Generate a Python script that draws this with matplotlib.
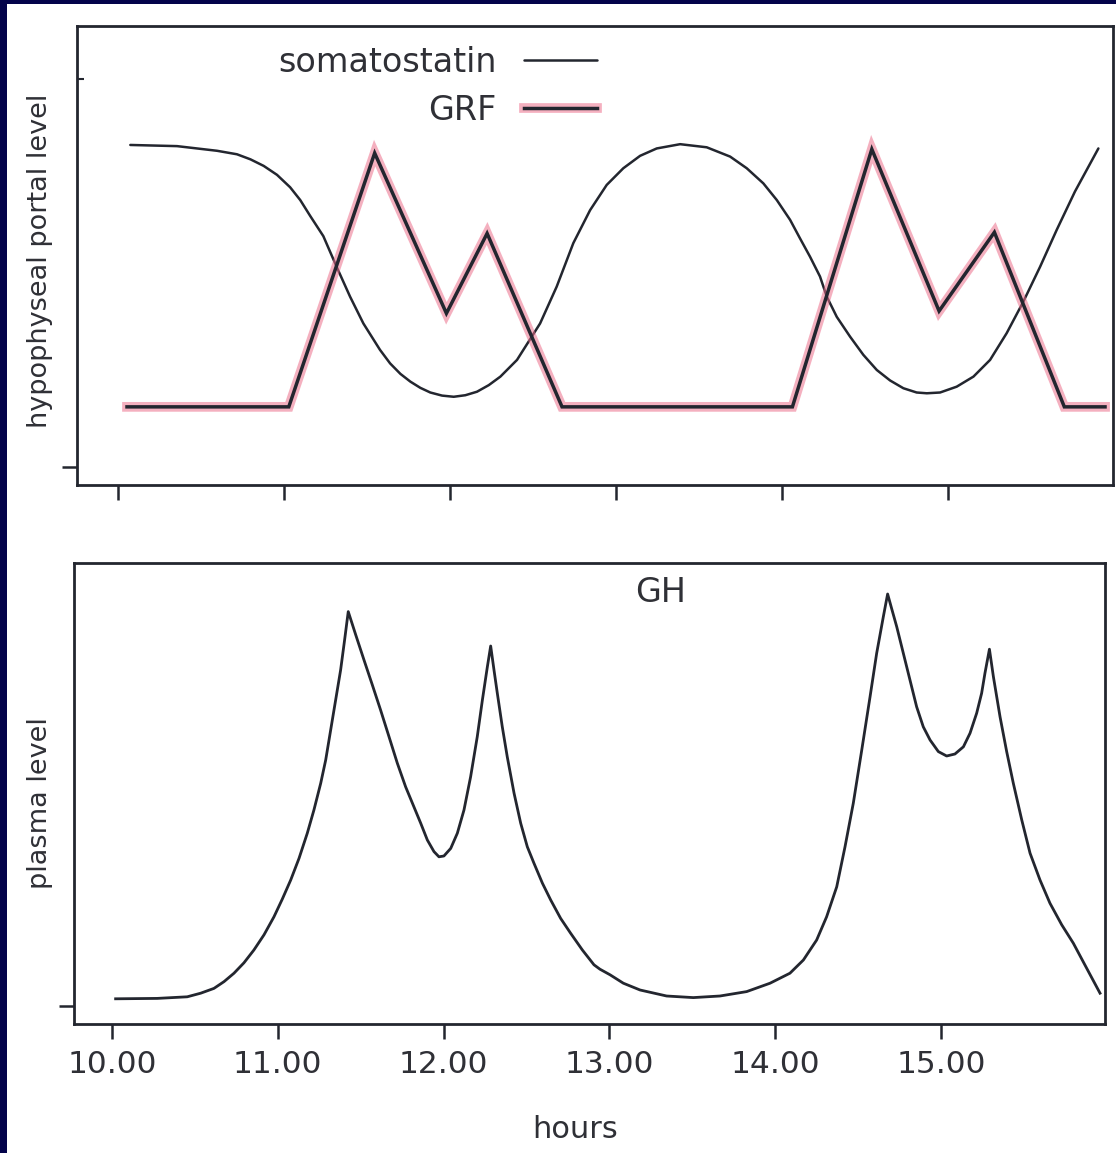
import matplotlib
matplotlib.use("Agg")
import matplotlib.pyplot as plt
import matplotlib.patheffects as pe
from matplotlib.patches import Rectangle

plt.rcParams['font.family'] = ['DejaVu Sans']

# ---------------- data ----------------
hour_ticks = [10, 11, 12, 13, 14, 15]
hour_labels = ["10.00", "11.00", "12.00", "13.00", "14.00", "15.00"]

som_t = [10.077, 10.358, 10.599, 10.719, 10.800, 10.880, 10.960, 11.039, 11.100,
         11.160, 11.239, 11.320, 11.400, 11.480, 11.580, 11.641, 11.703, 11.763,
         11.823, 11.883, 11.954, 12.024, 12.094, 12.164, 12.235, 12.305, 12.405,
         12.544, 12.644, 12.744, 12.845, 12.945, 13.045, 13.146, 13.246, 13.387,
         13.547, 13.688, 13.788, 13.888, 13.969, 14.049, 14.109, 14.169, 14.229,
         14.270, 14.330, 14.410, 14.490, 14.571, 14.651, 14.731, 14.811, 14.872,
         14.952, 15.052, 15.153, 15.253, 15.353, 15.453, 15.554, 15.654, 15.764,
         15.905]
som_v = [0.830, 0.827, 0.815, 0.806, 0.793, 0.776, 0.753, 0.721, 0.688,
         0.647, 0.595, 0.515, 0.439, 0.370, 0.302, 0.267, 0.240, 0.220,
         0.204, 0.192, 0.184, 0.181, 0.185, 0.194, 0.211, 0.233, 0.276,
         0.370, 0.465, 0.577, 0.662, 0.727, 0.770, 0.802, 0.821, 0.832,
         0.824, 0.800, 0.770, 0.731, 0.688, 0.637, 0.589, 0.542, 0.491,
         0.439, 0.387, 0.336, 0.289, 0.250, 0.223, 0.203, 0.192, 0.190,
         0.192, 0.207, 0.233, 0.276, 0.345, 0.426, 0.516, 0.611, 0.710,
         0.821]

grf_t = [10.057, 11.031, 11.548, 11.980, 12.225, 12.676, 14.063, 14.541,
         14.946, 15.279, 15.700, 15.945]
grf_v = [0.155, 0.155, 0.809, 0.396, 0.602, 0.155, 0.155, 0.819,
         0.402, 0.605, 0.155, 0.155]

gh_t = [10.022, 10.273, 10.454, 10.535, 10.615, 10.676, 10.736, 10.796, 10.856,
        10.917, 10.977, 11.027, 11.078, 11.128, 11.178, 11.218, 11.259, 11.289,
        11.319, 11.349, 11.379, 11.403, 11.425, 11.470, 11.520, 11.570, 11.620,
        11.671, 11.721, 11.771, 11.821, 11.862, 11.902, 11.942, 11.972, 12.002,
        12.043, 12.083, 12.123, 12.163, 12.203, 12.234, 12.264, 12.284, 12.304,
        12.324, 12.354, 12.384, 12.425, 12.465, 12.505, 12.545, 12.596, 12.646,
        12.706, 12.766, 12.837, 12.907, 12.943, 13.004, 13.084, 13.185, 13.345,
        13.506, 13.667, 13.828, 13.969, 14.089, 14.170, 14.250, 14.310, 14.371,
        14.421, 14.471, 14.522, 14.572, 14.612, 14.652, 14.678, 14.702, 14.733,
        14.763, 14.793, 14.823, 14.853, 14.893, 14.934, 14.984, 15.034, 15.084,
        15.135, 15.175, 15.215, 15.245, 15.265, 15.292, 15.316, 15.356, 15.396,
        15.436, 15.487, 15.537, 15.597, 15.657, 15.728, 15.798, 15.879, 15.959]
gh_v = [0.018, 0.019, 0.023, 0.032, 0.044, 0.061, 0.082, 0.108, 0.140,
        0.178, 0.223, 0.267, 0.315, 0.369, 0.432, 0.490, 0.557, 0.615,
        0.690, 0.765, 0.840, 0.915, 0.986, 0.928, 0.865, 0.803, 0.740,
        0.673, 0.607, 0.548, 0.498, 0.457, 0.415, 0.386, 0.373, 0.375,
        0.394, 0.432, 0.490, 0.573, 0.673, 0.765, 0.848, 0.900, 0.840,
        0.782, 0.698, 0.623, 0.532, 0.457, 0.398, 0.357, 0.307, 0.265,
        0.219, 0.182, 0.140, 0.103, 0.092, 0.078, 0.057, 0.040, 0.025,
        0.021, 0.025, 0.036, 0.057, 0.082, 0.115, 0.165, 0.223, 0.298,
        0.398, 0.507, 0.640, 0.773, 0.882, 0.973, 1.030, 0.994, 0.948,
        0.898, 0.848, 0.798, 0.748, 0.698, 0.665, 0.636, 0.625, 0.630,
        0.648, 0.682, 0.732, 0.782, 0.832, 0.892, 0.823, 0.723, 0.636,
        0.557, 0.465, 0.382, 0.315, 0.257, 0.203, 0.157, 0.094, 0.032]

# ---------------- style ----------------
INK = "#23262f"
TXT = "#2f3036"
NAVY = "#03034a"
PINK = "#ec6f8c"
W, H = 1116, 1153

fig = plt.figure(figsize=(W / 100, H / 100), dpi=100)
fig.patch.set_facecolor(NAVY)
fig.patches.append(Rectangle((7 / W, 0), 1 - 7 / W, 1 - 4 / H,
                             transform=fig.transFigure, facecolor="white",
                             edgecolor="none", zorder=-10))

def fx(px):
    return px / W

def fy(py):
    return 1 - py / H

ax1 = fig.add_axes([fx(77), fy(485), fx(1113) - fx(77), fy(26) - fy(485)])
ax2 = fig.add_axes([fx(74), fy(1024), fx(1105) - fx(74), fy(563) - fy(1024)])

for ax in (ax1, ax2):
    ax.set_facecolor("none")
    for s in ax.spines.values():
        s.set_color(INK)
        s.set_linewidth(2.0)
    ax.set_xticks(hour_ticks)
    ax.tick_params(axis="both", direction="out", color=INK, width=1.8,
                   length=11, labelsize=22.5, labelcolor=TXT, pad=8)

# top panel
ax1.set_xlim(9.756, 15.993)
ax1.set_ylim(-0.0464, 1.1366)
ax1.set_xticklabels([])
ax1.set_yticks([0])
ax1.set_yticklabels([])
ax1.set_yticks([1.0], minor=True)
ax1.tick_params(axis="y", which="minor", direction="in", length=5, width=1.5, color=INK)

ax1.plot(som_t, som_v, color=INK, lw=1.8, solid_capstyle="round",
         solid_joinstyle="round", label="somatostatin")
ax1.plot(grf_t, grf_v, color=INK, lw=2.5, solid_joinstyle="miter",
         path_effects=[pe.Stroke(linewidth=7, foreground=PINK, alpha=0.55),
                       pe.Normal()],
         label="GRF")

leg = ax1.legend(loc="upper right", bbox_to_anchor=(fx(597), fy(46)),
                 bbox_transform=fig.transFigure, frameon=False,
                 markerfirst=False, alignment="right", fontsize=24,
                 handlelength=2.2, handletextpad=0.8, labelspacing=0.45,
                 borderpad=0, borderaxespad=0)
for t in leg.get_texts():
    t.set_color(TXT)

# bottom panel
ax2.set_xlim(9.771, 15.989)
ax2.set_ylim(-0.045, 1.1075)
ax2.set_xticklabels(hour_labels)
ax2.set_yticks([0])
ax2.set_yticklabels([])
ax2.plot(gh_t, gh_v, color=INK, lw=2.0, solid_joinstyle="round")
ax2.text(0.569, 0.937, "GH", transform=ax2.transAxes, ha="center", va="center",
         fontsize=24, color=TXT)

fig.text(fx(40), fy(261), "hypophyseal portal level", rotation=90,
         ha="center", va="center", fontsize=19.5, color=TXT)
fig.text(fx(40), fy(803), "plasma level", rotation=90,
         ha="center", va="center", fontsize=19.5, color=TXT)
fig.text(fx(575), fy(1130), "hours", ha="center", va="center",
         fontsize=22, color=TXT)

fig.savefig("out.png", dpi=100, facecolor=fig.get_facecolor())
